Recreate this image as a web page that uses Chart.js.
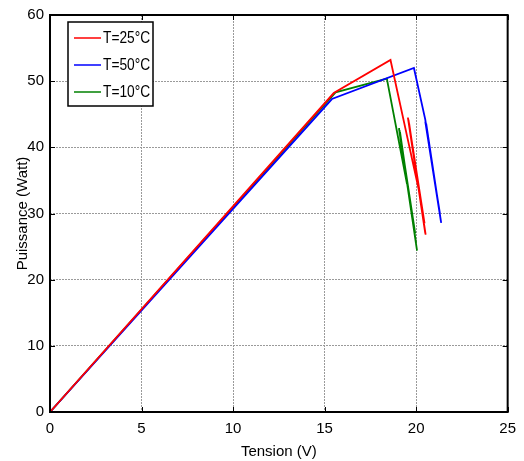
<!DOCTYPE html>
<html>
<head>
<meta charset="utf-8">
<script src="https://cdn.jsdelivr.net/npm/chart.js@4/dist/chart.umd.min.js"></script>
<style>
  html, body { margin: 0; padding: 0; background: #fff; }
  #wrap { width: 524px; height: 461px; }
</style>
</head>
<body>
<div id="wrap"><canvas id="pv"></canvas></div>
<script>
const FONT = "'Liberation Sans', Arial, sans-serif";

// Tension (V) / Puissance (W)
const v25 = [0, 15.5, 18.6, 20.15, 19.55, 20.5, 19.62, 20.52, 19.58, 20.46];
const p25 = [0, 48.2, 53.2, 33.5, 44.5, 27.0, 43.6, 26.8, 44.2, 28.5];
const v50 = [0, 15.4, 19.88, 20.5, 21.37, 20.55, 21.35, 20.5, 21.3];
const p50 = [0, 47.3, 52.0, 44.2, 28.6, 43.6, 28.9, 43.9, 30.0];
const v10 = [0, 15.6, 18.4, 19.5, 19.06, 20.05, 19.12, 20.0, 19.09, 19.95];
const p10 = [0, 48.3, 50.4, 34.5, 42.9, 24.4, 42.3, 25.5, 42.6, 27.0];

const xTicks = [0, 5, 10, 15, 20, 25];
const yTicks = [0, 10, 20, 30, 40, 50, 60];

const pts = (xs, ys) => xs.map((x, i) => ({ x, y: ys[i] }));

const series = [
  { label: 'T=25°C', color: '#ff0000', data: pts(v25, p25) },
  { label: 'T=50°C', color: '#0000ff', data: pts(v50, p50) },
  { label: 'T=10°C', color: '#008000', data: pts(v10, p10) }
];

// frame, inward tick marks and the boxed legend, MATLAB style
const matlabFrame = {
  id: 'matlabFrame',
  afterDatasetsDraw(chart) {
    const { ctx, chartArea: a, scales: { x, y } } = chart;
    ctx.save();
    ctx.strokeStyle = '#000';
    ctx.lineWidth = 1;
    ctx.beginPath();
    xTicks.forEach(t => {
      const px = Math.round(x.getPixelForValue(t)) + 0.5;
      ctx.moveTo(px, a.bottom); ctx.lineTo(px, a.bottom - 5);
      ctx.moveTo(px, a.top); ctx.lineTo(px, a.top + 5);
    });
    yTicks.forEach(t => {
      const py = Math.round(y.getPixelForValue(t)) + 0.5;
      ctx.moveTo(a.left, py); ctx.lineTo(a.left + 5, py);
      ctx.moveTo(a.right, py); ctx.lineTo(a.right - 5, py);
    });
    ctx.stroke();
    ctx.lineWidth = 2;
    ctx.strokeRect(a.left, a.top, a.right - a.left, a.bottom - a.top);

    // legend box
    const lx = 68, ly = 22, lw = 85, lh = 84;
    ctx.fillStyle = '#fff';
    ctx.fillRect(lx, ly, lw, lh);
    ctx.lineWidth = 1.5;
    ctx.strokeRect(lx, ly, lw, lh);
    ctx.textBaseline = 'middle';
    chart.data.datasets.forEach((ds, i) => {
      const cy = ly + 16 + i * 27;
      ctx.strokeStyle = ds.borderColor;
      ctx.lineWidth = 1.5;
      ctx.beginPath();
      ctx.moveTo(lx + 6, cy); ctx.lineTo(lx + 33, cy);
      ctx.stroke();
      ctx.save();
      ctx.translate(lx + 35, cy + 1);
      ctx.scale(0.86, 1);
      ctx.font = '16px ' + FONT;
      ctx.fillStyle = '#000';
      ctx.fillText(ds.label, 0, 0);
      ctx.restore();
    });
    ctx.restore();
  }
};

new Chart(document.getElementById('pv'), {
  type: 'scatter',
  data: {
    datasets: series.map(s => ({
      label: s.label,
      data: s.data,
      showLine: true,
      borderColor: s.color,
      backgroundColor: s.color,
      borderWidth: 1.8,
      pointRadius: 0,
      tension: 0
    }))
  },
  options: {
    responsive: true,
    maintainAspectRatio: false,
    animation: false,
    layout: { padding: { top: 14, right: 14, left: 0, bottom: 0 } },
    plugins: { legend: { display: false }, tooltip: { enabled: false } },
    scales: {
      x: {
        type: 'linear', min: 0, max: 25,
        afterBuildTicks: s => { s.ticks = xTicks.map(v => ({ value: v })); },
        afterFit: s => { s.height = 49; },
        grid: { color: '#9a9a9a', lineWidth: 1, drawTicks: false },
        border: { display: false, dash: [2, 1] },
        ticks: { color: '#000', padding: 8, font: { family: FONT, size: 15 } },
        title: { display: true, text: 'Tension (V)', color: '#000', padding: { top: 0, bottom: 0 }, font: { family: FONT, size: 15 } }
      },
      y: {
        type: 'linear', min: 0, max: 60,
        afterBuildTicks: s => { s.ticks = yTicks.map(v => ({ value: v })); },
        afterFit: s => { s.width = 50; },
        grid: { color: '#9a9a9a', lineWidth: 1, drawTicks: false },
        border: { display: false, dash: [2, 1] },
        ticks: { color: '#000', padding: 6, font: { family: FONT, size: 15 } },
        title: { display: true, text: 'Puissance (Watt)', color: '#000', padding: { top: 14, bottom: 0 }, font: { family: FONT, size: 15 } }
      }
    }
  },
  plugins: [matlabFrame]
});
</script>
</body>
</html>
